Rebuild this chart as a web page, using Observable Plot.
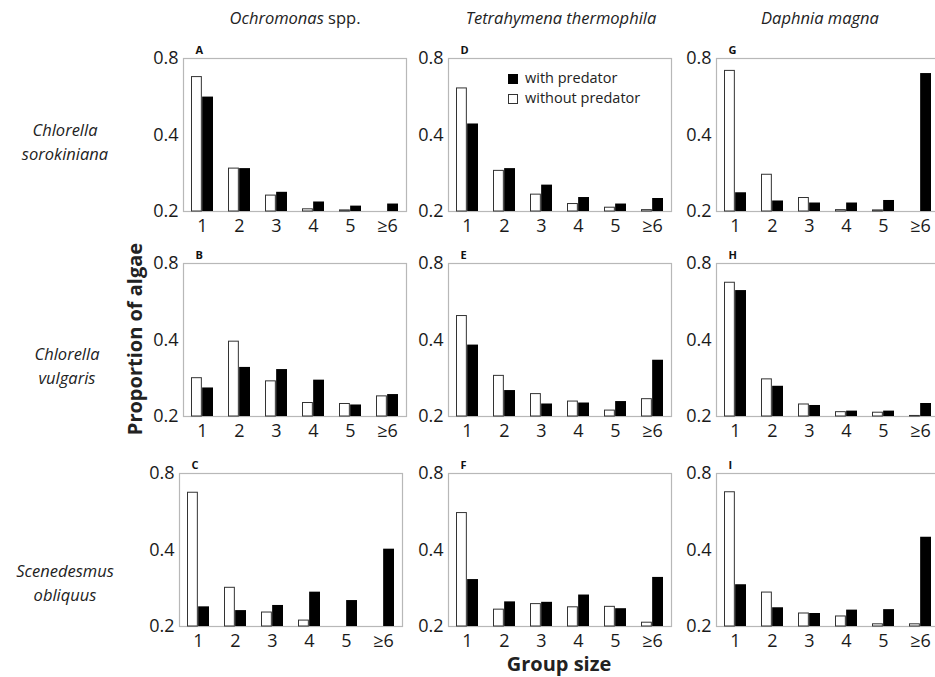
<!DOCTYPE html>
<html>
<head>
<meta charset="utf-8">
<script src="https://cdn.jsdelivr.net/npm/d3@7"></script>
<script src="https://cdn.jsdelivr.net/npm/@observablehq/plot@0.6"></script>
<style>
  html, body { margin: 0; padding: 0; background: #fff; overflow: hidden; }
  body { width: 935px; height: 677px; position: relative; font-family: "Open Sans", sans-serif; color: #222; }
  .abs { position: absolute; }
  .abs svg { max-width: none !important; display: block; }
  .coltitle { font-size: 16.5px; font-style: italic; transform: translate(-50%, -50%); white-space: nowrap; line-height: 1.1; }
  .coltitle span { font-style: normal; }
  .rowtitle { font-size: 16.5px; font-style: italic; text-align: center; line-height: 24px; transform: translate(-50%, -50%); white-space: nowrap; }
  .axtitle { font-size: 20px; font-weight: bold; white-space: nowrap; line-height: 1; }
  .legend { font-size: 14.5px; line-height: 20px; white-space: nowrap; }
  .sw { display: inline-block; width: 10px; height: 10px; box-sizing: border-box; margin-right: 7px; vertical-align: -1px; }
</style>
</head>
<body>
<div id="root"></div>
<script>
// ---- data ----
const groups = ["1", "2", "3", "4", "5", "≥6"];
const yTicks = [0.2, 0.4, 0.8];
const predators = ["Ochromonas", "Tetrahymena thermophila", "Daphnia magna"];
const algae = ["Chlorella sorokiniana", "Chlorella vulgaris", "Scenedesmus obliquus"];
const letters = ["A", "B", "C", "D", "E", "F", "G", "H", "I"];

// proportion of algae per group size; order: A..I (column by column)
const withoutA = [0.676, 0.295, 0.231, 0.204, 0.202, null];
const withA    = [0.564, 0.295, 0.238, 0.218, 0.210, 0.214];
const withoutB = [0.283, 0.394, 0.275, 0.226, 0.224, 0.240];
const withB    = [0.259, 0.312, 0.306, 0.278, 0.222, 0.244];
const withoutC = [0.672, 0.284, 0.227, 0.211, null, null];
const withC    = [0.239, 0.231, 0.242, 0.273, 0.253, 0.403];
const withoutD = [0.610, 0.289, 0.233, 0.214, 0.207, 0.2025];
const withD    = [0.442, 0.295, 0.254, 0.227, 0.214, 0.225];
const withoutE = [0.497, 0.289, 0.245, 0.229, 0.211, 0.234];
const withE    = [0.382, 0.253, 0.224, 0.226, 0.229, 0.333];
const withoutF = [0.559, 0.233, 0.245, 0.238, 0.239, 0.207];
const withF    = [0.306, 0.250, 0.249, 0.266, 0.235, 0.312];
const withoutG = [0.715, 0.279, 0.226, 0.2025, 0.202, null];
const withG    = [0.237, 0.220, 0.216, 0.216, 0.221, 0.698];
const withoutH = [0.672, 0.280, 0.223, 0.208, 0.207, 0.201];
const withH    = [0.626, 0.263, 0.221, 0.210, 0.210, 0.225];
const withoutI = [0.675, 0.272, 0.225, 0.219, 0.204, 0.204];
const withI    = [0.292, 0.237, 0.225, 0.232, 0.233, 0.449];

const withoutSeries = [withoutA, withoutB, withoutC, withoutD, withoutE, withoutF, withoutG, withoutH, withoutI];
const withSeries = [withA, withB, withC, withD, withE, withF, withG, withH, withI];

// ---- layout ----
const colLeft = [[183, 183, 179], [448, 448, 448], [716, 716, 716]];
const rowTop = [58, 263, 473];
const W = 223, H = 153;
const ML = 45, MR = 2, MT = 22, MB = 30;
const root = document.getElementById("root");

function panel(idx) {
  const rows = groups.map((g, i) => ({group: g, without: withoutSeries[idx][i], with: withSeries[idx][i]}));
  const step = W / 6;
  const bw = step * 0.6;
  return Plot.plot({
    width: ML + W + MR,
    height: MT + H + MB,
    marginLeft: ML, marginRight: MR, marginTop: MT, marginBottom: MB,
    style: {fontFamily: "Open Sans, sans-serif", fontSize: "18px", color: "#1a1a1a", background: "transparent", overflow: "visible", maxWidth: "none"},
    x: {type: "band", domain: groups, paddingInner: 0.4, paddingOuter: 0.2, label: null, tickSize: 0, tickPadding: 8},
    y: {type: "log", base: 2, domain: [0.2, 0.8], ticks: yTicks, tickFormat: d => d.toFixed(1), tickSize: 0, tickPadding: 5, label: null},
    marks: [
      Plot.frame({stroke: "#b8b8b8", strokeWidth: 1.2}),
      Plot.barY(rows.filter(d => d.without != null), {x: "group", y1: () => 0.2, y2: "without", fill: "white", stroke: "#333", strokeWidth: 1, insetRight: bw / 2 + 0.5, insetLeft: 0.5}),
      Plot.barY(rows.filter(d => d.with != null), {x: "group", y1: () => 0.2, y2: "with", fill: "black", insetLeft: bw / 2}),
      Plot.text([letters[idx]], {text: d => d, frameAnchor: "top-left", dx: 12, dy: -5, textAnchor: "start", lineAnchor: "bottom", fontWeight: "bold", fontSize: 11, fill: "#111"})
    ]
  });
}

for (let c = 0; c < 3; c++) {
  for (let r = 0; r < 3; r++) {
    const idx = c * 3 + r;
    const div = document.createElement("div");
    div.className = "abs";
    div.style.left = (colLeft[c][r] - ML) + "px";
    div.style.top = (rowTop[r] - MT) + "px";
    div.style.width = (ML + W + MR) + "px";
    div.appendChild(panel(idx));
    root.appendChild(div);
  }
}

function addDiv(cls, html, x, y, extra) {
  const d = document.createElement("div");
  d.className = "abs " + cls;
  d.style.left = x + "px";
  d.style.top = y + "px";
  if (extra) Object.assign(d.style, extra);
  d.innerHTML = html;
  root.appendChild(d);
  return d;
}

// column titles
addDiv("coltitle", predators[0] + " <span>spp.</span>", 295, 18);
addDiv("coltitle", predators[1], 561, 18);
addDiv("coltitle", predators[2], 820, 18);

// row titles
const rowCenters = [[65, 142], [67, 366], [65, 583]];
algae.forEach((a, i) => {
  const [g, s] = a.split(" ");
  addDiv("rowtitle", g + "<br>" + s, rowCenters[i][0], rowCenters[i][1]);
});

// axis titles
addDiv("axtitle", "Proportion of algae", 135, 339, {transform: "translate(-50%, -50%) rotate(-90deg)"});
addDiv("axtitle", "Group size", 559, 664, {transform: "translate(-50%, -50%)"});

// legend (panel D)
addDiv("legend",
  '<div><span class="sw" style="background:#000"></span>with predator</div>' +
  '<div><span class="sw" style="background:#fff;border:1px solid #333"></span>without predator</div>',
  508, 68);
</script>
</body>
</html>
